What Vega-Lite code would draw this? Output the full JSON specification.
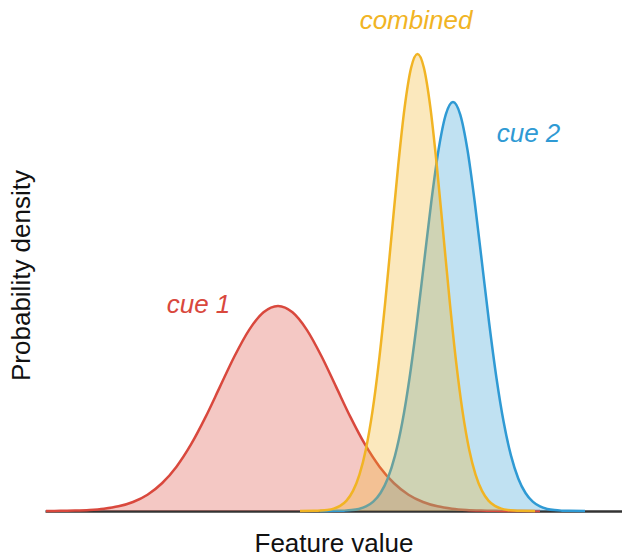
{
  "$schema": "https://vega.github.io/schema/vega-lite/v6.json",
  "autosize": "none",
  "width": 577,
  "height": 472,
  "padding": {"left": 45, "top": 39, "right": 0, "bottom": 48},
  "background": "white",
  "config": {
    "font": "Liberation Sans",
    "view": {"stroke": null},
    "axis": {"grid": false, "ticks": false, "labels": false, "titleFontSize": 26, "titleFontWeight": "normal", "titleColor": "#111111", "titleFont": "Liberation Sans"},
    "axisX": {"domainColor": "#333333", "domainWidth": 2.5, "titlePadding": 19, "zindex": 1},
    "axisY": {"domain": false, "titlePadding": 11}
  },
  "datasets": {
    "cue1": [
      {"x": 46, "d": 0}, {"x": 60.5, "d": 0.18}, {"x": 75, "d": 0.45}, {"x": 89.5, "d": 1.04}, {"x": 104, "d": 2.28}, {"x": 118.5, "d": 4.67}, {"x": 133, "d": 9.01}, {"x": 147.5, "d": 16.31}, {"x": 162, "d": 27.74}, {"x": 176.5, "d": 44.34}, {"x": 191, "d": 66.55}, {"x": 205.5, "d": 93.86}, {"x": 220, "d": 124.34}, {"x": 234.5, "d": 154.74}, {"x": 249, "d": 180.91}, {"x": 263.5, "d": 198.69}, {"x": 278, "d": 205}, {"x": 292.5, "d": 198.69}, {"x": 307, "d": 180.91}, {"x": 321.5, "d": 154.74}, {"x": 336, "d": 124.34}, {"x": 350.5, "d": 93.86}, {"x": 365, "d": 66.55}, {"x": 379.5, "d": 44.34}, {"x": 394, "d": 27.74}, {"x": 408.5, "d": 16.31}, {"x": 423, "d": 9.01}, {"x": 437.5, "d": 4.67}, {"x": 452, "d": 2.28}, {"x": 466.5, "d": 1.04}, {"x": 481, "d": 0.45}, {"x": 495.5, "d": 0.18}, {"x": 510, "d": 0.07}, {"x": 540, "d": 0}
    ],
    "cue2": [
      {"x": 320, "d": 0}, {"x": 337, "d": 0.14}, {"x": 344.25, "d": 0.36}, {"x": 351.5, "d": 0.89}, {"x": 358.75, "d": 2.08}, {"x": 366, "d": 4.54}, {"x": 373.25, "d": 9.32}, {"x": 380.5, "d": 17.97}, {"x": 387.75, "d": 32.54}, {"x": 395, "d": 55.35}, {"x": 402.25, "d": 88.45}, {"x": 409.5, "d": 132.78}, {"x": 416.75, "d": 187.25}, {"x": 424, "d": 248.07}, {"x": 431.25, "d": 308.73}, {"x": 438.5, "d": 360.94}, {"x": 445.75, "d": 396.41}, {"x": 453, "d": 409}, {"x": 460.25, "d": 396.41}, {"x": 467.5, "d": 360.94}, {"x": 474.75, "d": 308.73}, {"x": 482, "d": 248.07}, {"x": 489.25, "d": 187.25}, {"x": 496.5, "d": 132.78}, {"x": 503.75, "d": 88.45}, {"x": 511, "d": 55.35}, {"x": 518.25, "d": 32.54}, {"x": 525.5, "d": 17.97}, {"x": 532.75, "d": 9.32}, {"x": 540, "d": 4.54}, {"x": 547.25, "d": 2.08}, {"x": 554.5, "d": 0.89}, {"x": 561.75, "d": 0.36}, {"x": 569, "d": 0.14}, {"x": 585, "d": 0}
    ],
    "combined": [
      {"x": 300, "d": 0}, {"x": 314.3, "d": 0.15}, {"x": 320.75, "d": 0.4}, {"x": 327.2, "d": 1.0}, {"x": 333.65, "d": 2.32}, {"x": 340.1, "d": 5.08}, {"x": 346.55, "d": 10.42}, {"x": 353, "d": 20.08}, {"x": 359.45, "d": 36.36}, {"x": 365.9, "d": 61.85}, {"x": 372.35, "d": 98.84}, {"x": 378.8, "d": 148.37}, {"x": 385.25, "d": 209.23}, {"x": 391.7, "d": 277.18}, {"x": 398.15, "d": 344.96}, {"x": 404.6, "d": 403.3}, {"x": 411.05, "d": 442.94}, {"x": 417.5, "d": 457}, {"x": 423.95, "d": 442.94}, {"x": 430.4, "d": 403.3}, {"x": 436.85, "d": 344.96}, {"x": 443.3, "d": 277.18}, {"x": 449.75, "d": 209.23}, {"x": 456.2, "d": 148.37}, {"x": 462.65, "d": 98.84}, {"x": 469.1, "d": 61.85}, {"x": 475.55, "d": 36.36}, {"x": 482, "d": 20.08}, {"x": 488.45, "d": 10.42}, {"x": 494.9, "d": 5.08}, {"x": 501.35, "d": 2.32}, {"x": 507.8, "d": 1.0}, {"x": 514.25, "d": 0.4}, {"x": 520.7, "d": 0.15}, {"x": 535, "d": 0}
    ],
    "labels": [
      {"label": "cue 1", "x": 198.5, "d": 198},
      {"label": "cue 2", "x": 528.5, "d": 369},
      {"label": "combined", "x": 416, "d": 482}
    ]
  },
  "encoding": {
    "x": {"field": "x", "type": "quantitative", "scale": {"domain": [45, 622], "nice": false, "zero": false}, "axis": {"title": "Feature value"}},
    "y": {"field": "d", "type": "quantitative", "scale": {"domain": [0, 472], "nice": false}, "axis": {"title": "Probability density"}}
  },
  "layer": [
    {
      "data": {"name": "cue1"},
      "mark": {"type": "area", "interpolate": "monotone", "color": "#D9483D", "fillOpacity": 0.3, "line": {"color": "#D9483D", "strokeWidth": 2.5}}
    },
    {
      "data": {"name": "cue2"},
      "mark": {"type": "area", "interpolate": "monotone", "color": "#2F9AD4", "fillOpacity": 0.3, "line": {"color": "#2F9AD4", "strokeWidth": 2.5}}
    },
    {
      "data": {"name": "combined"},
      "mark": {"type": "area", "interpolate": "monotone", "color": "#F1B424", "fillOpacity": 0.3, "line": {"color": "#F1B424", "strokeWidth": 2.5}}
    },
    {
      "data": {"name": "labels"},
      "mark": {"type": "text", "fontSize": 26, "fontStyle": "italic", "align": "center", "baseline": "alphabetic", "font": "Liberation Sans"},
      "encoding": {
        "text": {"field": "label", "type": "nominal"},
        "color": {"field": "label", "type": "nominal", "scale": {"domain": ["cue 1", "cue 2", "combined"], "range": ["#D9483D", "#2F9AD4", "#F1B424"]}, "legend": null}
      }
    }
  ]
}
